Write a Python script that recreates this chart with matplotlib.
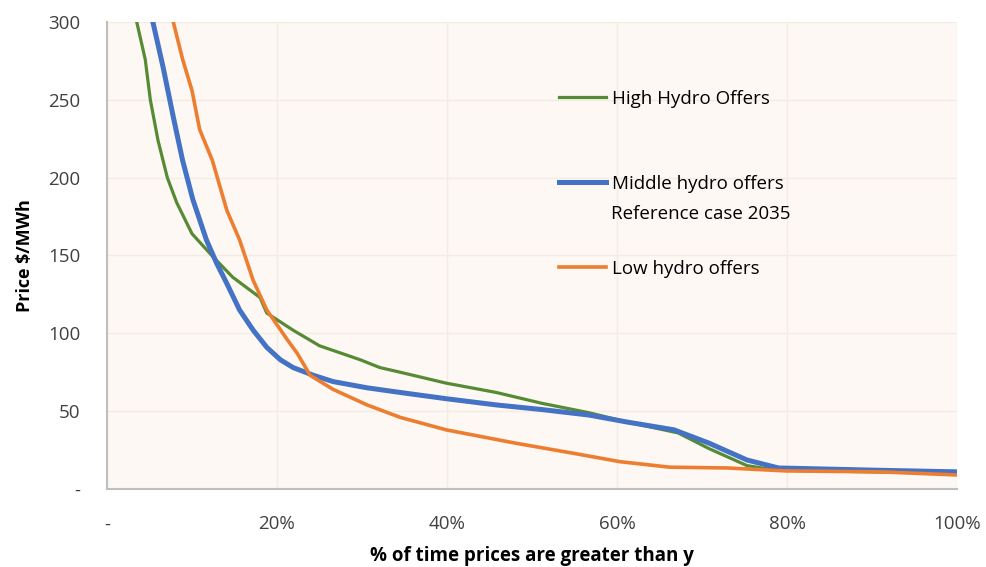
"""Price duration curves for three hydro offer cases (2035)."""

import matplotlib

matplotlib.use("Agg")
import matplotlib.pyplot as plt
from matplotlib.ticker import FuncFormatter, MultipleLocator

# % of time prices exceed y (as percent) and price in $/MWh
high_x = [3.5, 4.5, 5.1, 6.0, 7.1, 8.2, 10.0, 12.5, 14.8, 18.0, 18.8, 21.9, 25.0,
          29.8, 32.1, 34.5, 39.9, 45.8, 51.2, 56.7, 61.2, 67.2, 70.8, 75.3,
          77.6, 80.0, 90.0, 100.0]
high_y = [300, 276, 250, 224, 200, 184, 164, 149, 136, 123, 113, 102, 92,
          83, 78, 75, 68, 62, 55, 49, 43, 36, 26, 15,
          13, 12, 11, 10]

mid_x = [5.4, 6.6, 7.8, 8.9, 10.1, 11.7, 12.9, 14.1, 15.6, 17.2, 18.8, 20.4,
         21.9, 24.3, 26.6, 30.6, 34.5, 39.9, 45.8, 51.2, 56.7, 61.2, 66.7,
         70.8, 75.3, 79.0, 91.0, 100.0]
mid_y = [300, 271, 239, 211, 186, 160, 145, 132, 115, 102, 91, 83,
         78, 73, 69, 65, 62, 58, 54, 51, 47.5, 43, 38,
         29.5, 18.6, 13.5, 12, 11]

low_x = [7.8, 8.9, 10.0, 10.9, 12.4, 14.1, 15.6, 17.2, 18.8, 21.2, 22.4, 23.9,
         26.6, 30.6, 34.5, 39.9, 48.0, 54.8, 60.4, 66.2, 73.0, 79.9, 91.0, 100.0]
low_y = [300, 276, 256, 231, 211, 179, 160, 134, 115, 96, 87, 73,
         64, 54, 46, 38, 29.5, 23, 17.5, 14, 13.5, 11.6, 11, 9]

labels = ["High Hydro Offers", "Middle hydro offers", "Low hydro offers"]
colors = ["#568A35", "#4472C4", "#ED7D31"]

plt.rcParams["font.family"] = ["Open Sans", "DejaVu Sans"]

fig = plt.figure(figsize=(9.86, 5.67), dpi=100)
ax = fig.add_axes([0.1085, 0.1376, 0.8621, 0.8236])
ax.set_facecolor("#FDF8F3")

ax.plot([v / 100 for v in high_x], high_y, color=colors[0], lw=2.3, label=labels[0])
ax.plot([v / 100 for v in mid_x], mid_y, color=colors[1], lw=3.6, label=labels[1])
ax.plot([v / 100 for v in low_x], low_y, color=colors[2], lw=2.6, label=labels[2])

ax.set_xlim(0, 1)
ax.set_ylim(0, 300)
ax.xaxis.set_major_locator(MultipleLocator(0.2))
ax.yaxis.set_major_locator(MultipleLocator(50))
ax.xaxis.set_major_formatter(FuncFormatter(lambda v, _: "-" if v == 0 else f"{v:.0%}"))
ax.yaxis.set_major_formatter(FuncFormatter(lambda v, _: "-" if v == 0 else f"{v:.0f}"))
ax.tick_params(length=0, labelsize=13.5, labelcolor="#404040")
ax.tick_params(axis="x", pad=19)
ax.tick_params(axis="y", pad=19)

ax.grid(True, color="#F3ECE4", lw=1)
ax.set_axisbelow(True)
for side in ("top", "right"):
    ax.spines[side].set_visible(False)
for side in ("left", "bottom"):
    ax.spines[side].set_color("#BFBFBF")
    ax.spines[side].set_linewidth(1.5)

ax.set_xlabel("% of time prices are greater than y", fontsize=13.5,
              fontweight="bold", labelpad=9)
ax.set_ylabel("Price $/MWh", fontsize=13, fontweight="bold", labelpad=10)

leg = ax.legend(loc="upper left", bbox_to_anchor=(0.512, 0.891), frameon=False,
                fontsize=13.5, handlelength=2.5, handletextpad=0.3,
                labelspacing=3.58)
ax.text(0.593, 0.588, "Reference case 2035", transform=ax.transAxes,
        fontsize=13.5, va="center", ha="left")

fig.savefig("out.png", dpi=100)
